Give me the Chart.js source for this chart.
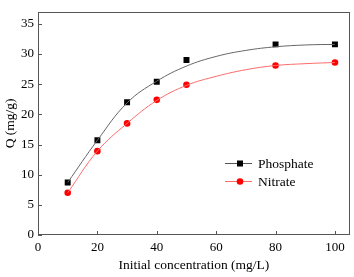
<!DOCTYPE html>
<html><head><meta charset="utf-8">
<script src="https://cdn.jsdelivr.net/npm/chart.js@4/dist/chart.umd.min.js"></script>
<style>html,body{margin:0;padding:0;background:#fff}#wrap{width:354px;height:277px}</style>
</head><body><div id="wrap"><canvas id="c" width="354" height="277"></canvas></div>
<script>
const concentrations = [10, 20, 30, 40, 50, 80, 100];
const phosphateQ = [8.7, 15.7, 22.0, 25.4, 29.0, 31.6, 31.6];
const nitrateQ = [7.0, 13.9, 18.5, 22.4, 24.9, 28.1, 28.6];
const fitX = [10, 20, 30, 40, 50, 60, 70, 80, 90, 100];
const phosphateFit = [8.7, 15.7, 21.9, 25.5, 28.0, 29.6, 30.6, 31.2, 31.5, 31.6];
const nitrateFit = [7.0, 13.9, 18.5, 22.3, 24.8, 26.3, 27.4, 28.1, 28.4, 28.6];
const xTicks = [0, 20, 40, 60, 80, 100];
const yTicks = [0, 5, 10, 15, 20, 25, 30, 35];
const seriesNames = ['Phosphate', 'Nitrate'];

const pts = (xs, ys) => xs.map((x, i) => ({x, y: ys[i]}));
const FONT = 'Liberation Serif';
const AXIS = '#555';

const frame = {
  id: 'frame',
  afterDraw(chart) {
    const {ctx, chartArea: a, scales: {x, y}} = chart;
    ctx.save();
    ctx.strokeStyle = AXIS; ctx.lineWidth = 1;
    ctx.strokeRect(Math.round(a.left) + 0.5, Math.round(a.top) + 0.5, Math.round(a.right - a.left) - 1, Math.round(a.bottom - a.top) - 1);
    ctx.beginPath();
    x.ticks.forEach((t, i) => { const px = Math.round(x.getPixelForTick(i)) + 0.5; ctx.moveTo(px, a.bottom); ctx.lineTo(px, a.bottom - 4); });
    y.ticks.forEach((t, i) => { const py = Math.round(y.getPixelForTick(i)) + 0.5; ctx.moveTo(a.left, py); ctx.lineTo(a.left + 4, py); });
    ctx.stroke();
    const items = [
      {name: seriesNames[0], line: '#555', fill: '#000', style: 'rect', y: 163},
      {name: seriesNames[1], line: '#ff6b6b', fill: '#ff0000', style: 'circle', y: 181}
    ];
    items.forEach(it => {
      ctx.strokeStyle = it.line; ctx.lineWidth = 1;
      ctx.beginPath(); ctx.moveTo(225, it.y + 0.5); ctx.lineTo(252, it.y + 0.5); ctx.stroke();
      ctx.fillStyle = it.fill;
      if (it.style === 'rect') ctx.fillRect(237, it.y - 2.5, 6, 6);
      else { ctx.beginPath(); ctx.arc(240, it.y + 0.5, 3.3, 0, Math.PI * 2); ctx.fill(); }
      ctx.fillStyle = '#000'; ctx.font = '13.5px "' + FONT + '"'; ctx.textBaseline = 'middle'; ctx.textAlign = 'left';
      ctx.fillText(it.name, 258, it.y + 1);
    });
    ctx.restore();
  }
};

new Chart(document.getElementById('c'), {
  type: 'scatter',
  data: {
    datasets: [
      {label: seriesNames[0] + ' fit', data: pts(fitX, phosphateFit), showLine: true, borderColor: '#666', borderWidth: 1, pointRadius: 0, tension: 0.4, fill: false},
      {label: seriesNames[1] + ' fit', data: pts(fitX, nitrateFit), showLine: true, borderColor: '#ff6b6b', borderWidth: 1, pointRadius: 0, tension: 0.4, fill: false},
      {label: seriesNames[0], data: pts(concentrations, phosphateQ), pointStyle: 'rect', pointRadius: 4.2, backgroundColor: '#000', borderColor: '#000', borderWidth: 0},
      {label: seriesNames[1], data: pts(concentrations, nitrateQ), pointStyle: 'circle', pointRadius: 3.3, backgroundColor: '#ff0000', borderColor: '#ff0000', borderWidth: 0}
    ]
  },
  options: {
    responsive: false, animation: false, devicePixelRatio: 1,
    layout: {padding: {left: 0, right: 3, top: 2, bottom: 0}},
    plugins: {legend: {display: false}, tooltip: {enabled: false}},
    scales: {
      x: {
        type: 'linear', min: 0, max: 105,
        afterBuildTicks: s => { s.ticks = xTicks.map(v => ({value: v})); },
        afterFit: s => { s.height = 42; },
        grid: {display: false, drawTicks: false},
        border: {display: false},
        ticks: {font: {family: FONT, size: 13}, color: '#000', padding: 5, maxRotation: 0},
        title: {display: true, text: 'Initial concentration (mg/L)', font: {family: FONT, size: 13.5}, color: '#000', padding: {top: 2, bottom: 3}}
      },
      y: {
        type: 'linear', min: 0, max: 37,
        afterBuildTicks: s => { s.ticks = yTicks.map(v => ({value: v})); },
        afterFit: s => { s.width = 38; },
        grid: {display: false, drawTicks: false},
        border: {display: false},
        ticks: {font: {family: FONT, size: 13}, color: '#000', padding: 4},
        title: {display: true, text: 'Q (mg/g)', font: {family: FONT, size: 13.5}, color: '#000', padding: {top: 2, bottom: 2}}
      }
    }
  },
  plugins: [frame]
});
</script></body></html>
